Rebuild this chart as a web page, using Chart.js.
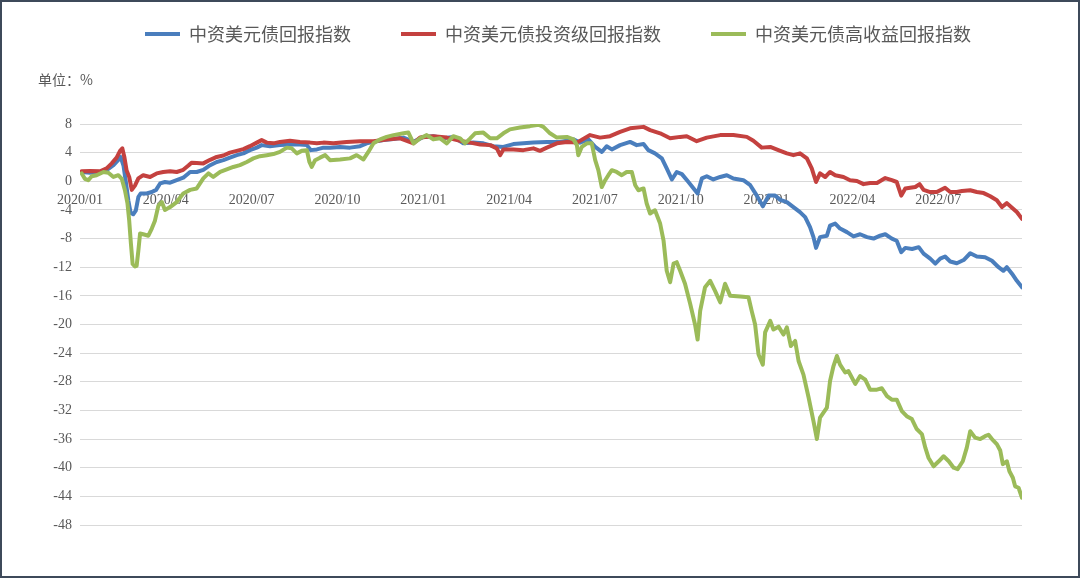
<!DOCTYPE html>
<html><head><meta charset="utf-8">
<script src="https://cdn.jsdelivr.net/npm/chart.js@4.4.1/dist/chart.umd.min.js"></script>
<style>
html,body{margin:0;padding:0;background:#fff;}
#frame{width:1080px;height:578px;box-sizing:border-box;border:2px solid #3e4a5a;background:#fff;}
canvas{display:block;}
</style></head><body>
<div id="frame"><canvas id="c" width="1076" height="574"></canvas></div>
<script>
// ---- data (x = months since 2020/01, y = cumulative return %) ----
const seriesNames = ['中资美元债回报指数', '中资美元债投资级回报指数', '中资美元债高收益回报指数'];
const unitLabel = '单位：%';
const tickLabels = ['2020/01','2020/04','2020/07','2020/10','2021/01','2021/04','2021/07','2021/10','2022/01','2022/04','2022/07'];
const tickMonths = [0,3,6,9,12,15,18,21,24,27,30];
const yMin = -48, yMax = 8, yStep = 4;

const blueSeries = [
[0.06,1.3],[0.35,1.2],[0.70,1.3],[0.93,1.55],[1.17,2.25],[1.34,3.0],[1.42,3.4],[1.52,2.2],[1.61,-0.3],[1.69,-2.7],
[1.77,-4.4],[1.86,-4.6],[1.95,-4.1],[2.04,-2.2],[2.12,-1.7],[2.33,-1.7],[2.51,-1.5],[2.66,-1.2],[2.80,-0.3],[2.97,-0.1],
[3.15,-0.2],[3.38,0.15],[3.61,0.5],[3.85,1.3],[4.08,1.3],[4.31,1.6],[4.55,2.25],[4.78,2.7],[5.01,2.95],[5.24,3.3],
[5.48,3.65],[5.71,3.9],[5.94,4.35],[6.18,4.7],[6.35,5.05],[6.64,4.9],[6.99,5.05],[7.34,5.15],[7.69,5.15],[7.93,5.05],
[8.07,4.35],[8.28,4.45],[8.51,4.7],[8.74,4.7],[9.09,4.8],[9.44,4.7],[9.79,4.9],[10.02,5.3],[10.26,5.5],[10.61,5.75],
[10.96,5.9],[11.31,6.1],[11.66,5.5],[12.00,6.2],[12.35,6.3],[12.70,6.0],[13.05,6.2],[13.40,5.3],[13.75,5.4],[14.10,5.3],
[14.45,4.9],[14.80,4.8],[15.15,5.2],[15.50,5.3],[15.85,5.4],[16.32,5.5],[16.78,5.5],[17.25,5.85],[17.48,5.4],[17.77,5.85],
[18.01,4.8],[18.24,4.1],[18.41,4.9],[18.59,4.45],[18.88,5.05],[19.23,5.5],[19.46,5.05],[19.70,5.2],[19.87,4.35],[20.10,3.9],
[20.34,3.2],[20.51,1.8],[20.69,0.25],[20.86,1.3],[21.04,1.0],[21.27,-0.1],[21.45,-1.0],[21.59,-1.7],[21.74,0.4],[21.91,0.7],
[22.14,0.25],[22.38,0.6],[22.61,0.85],[22.84,0.4],[23.19,0.15],[23.43,-0.55],[23.66,-2.0],[23.87,-3.5],[24.07,-2.0],[24.30,-2.0],
[24.48,-2.6],[24.71,-2.9],[24.94,-3.6],[25.17,-4.3],[25.35,-5.0],[25.52,-6.4],[25.64,-7.8],[25.73,-9.3],[25.87,-7.8],[26.11,-7.6],
[26.22,-6.2],[26.40,-5.9],[26.57,-6.6],[26.81,-7.1],[27.04,-7.7],[27.27,-7.4],[27.51,-7.8],[27.74,-8.0],[27.97,-7.6],[28.15,-7.4],
[28.38,-8.0],[28.55,-8.3],[28.71,-9.9],[28.85,-9.3],[29.09,-9.45],[29.32,-9.2],[29.49,-10.1],[29.72,-10.8],[29.90,-11.5],[30.07,-10.8],
[30.24,-10.5],[30.42,-11.2],[30.65,-11.45],[30.89,-11.0],[31.12,-10.05],[31.35,-10.5],[31.64,-10.6],[31.88,-11.1],[32.11,-12.0],[32.28,-12.5],
[32.40,-12.0],[32.58,-12.9],[32.75,-13.9],[32.93,-14.8]
];

const redSeries = [
[0.06,1.4],[0.35,1.45],[0.70,1.4],[0.93,1.8],[1.11,2.5],[1.28,3.3],[1.40,4.25],[1.48,4.6],[1.55,3.4],[1.63,1.5],
[1.72,0.6],[1.81,-1.2],[1.92,-0.6],[2.04,0.4],[2.21,0.85],[2.45,0.6],[2.68,1.1],[2.91,1.3],[3.15,1.4],[3.38,1.3],
[3.61,1.6],[3.79,2.2],[3.90,2.6],[4.08,2.55],[4.31,2.5],[4.55,3.0],[4.78,3.4],[5.01,3.6],[5.24,4.0],[5.48,4.25],
[5.71,4.5],[5.94,4.9],[6.18,5.4],[6.35,5.75],[6.53,5.4],[6.76,5.3],[6.99,5.5],[7.34,5.65],[7.69,5.5],[8.04,5.4],
[8.28,5.3],[8.51,5.4],[8.86,5.3],[9.32,5.5],[9.79,5.6],[10.26,5.6],[10.72,5.85],[11.19,6.0],[11.66,5.3],[11.89,6.1],
[12.35,6.3],[12.82,6.1],[13.29,5.65],[13.64,5.4],[13.99,5.15],[14.34,5.05],[14.57,4.6],[14.69,3.65],[14.80,4.45],[15.15,4.45],
[15.50,4.35],[15.85,4.6],[16.08,4.25],[16.32,4.7],[16.67,5.3],[17.02,5.5],[17.37,5.4],[17.83,6.45],[18.18,6.1],[18.53,6.3],
[18.88,6.9],[19.23,7.4],[19.70,7.6],[19.93,7.15],[20.28,6.7],[20.63,6.0],[20.98,6.2],[21.21,6.3],[21.56,5.6],[21.91,6.1],
[22.38,6.45],[22.84,6.45],[23.31,6.2],[23.54,5.65],[23.83,4.7],[24.13,4.8],[24.48,4.25],[24.71,3.9],[24.94,3.65],[25.17,3.9],
[25.41,3.2],[25.58,1.8],[25.73,-0.1],[25.87,1.1],[26.05,0.6],[26.22,1.3],[26.40,0.85],[26.69,0.6],[26.92,0.15],[27.16,0.05],
[27.39,-0.4],[27.62,-0.25],[27.86,-0.25],[28.15,0.45],[28.38,0.15],[28.55,-0.1],[28.71,-2.0],[28.85,-1.0],[29.02,-0.9],[29.20,-0.8],
[29.35,-0.4],[29.49,-1.2],[29.72,-1.5],[29.95,-1.5],[30.24,-0.9],[30.42,-1.5],[30.65,-1.5],[30.83,-1.35],[31.12,-1.25],[31.35,-1.5],
[31.59,-1.65],[31.82,-2.1],[32.05,-2.65],[32.23,-3.6],[32.40,-3.05],[32.58,-3.7],[32.75,-4.3],[32.93,-5.25]
];

const greenSeries = [
[0.06,1.1],[0.17,0.35],[0.29,0.15],[0.41,0.7],[0.58,0.85],[0.82,1.3],[0.99,1.2],[1.17,0.6],[1.34,0.85],[1.46,0.35],
[1.57,-1.25],[1.66,-3.1],[1.72,-5.5],[1.78,-8.7],[1.84,-11.55],[1.92,-11.9],[1.98,-11.8],[2.04,-9.7],[2.10,-7.3],[2.21,-7.4],
[2.39,-7.6],[2.51,-6.6],[2.62,-5.5],[2.74,-3.4],[2.86,-2.9],[2.97,-4.0],[3.15,-3.6],[3.38,-2.9],[3.61,-1.7],[3.85,-1.2],
[4.08,-1.0],[4.31,0.4],[4.49,1.1],[4.66,0.6],[4.90,1.3],[5.13,1.65],[5.36,2.0],[5.59,2.25],[5.83,2.7],[6.06,3.2],
[6.29,3.5],[6.53,3.65],[6.76,3.8],[6.99,4.1],[7.23,4.7],[7.40,4.6],[7.58,3.9],[7.75,4.25],[7.93,4.35],[8.02,2.7],
[8.10,2.0],[8.22,2.95],[8.39,3.3],[8.57,3.65],[8.74,2.95],[9.09,3.05],[9.44,3.2],[9.67,3.65],[9.91,3.05],[10.08,4.1],
[10.26,5.3],[10.49,5.85],[10.72,6.2],[10.96,6.45],[11.31,6.7],[11.48,6.8],[11.66,5.3],[11.89,6.0],[12.12,6.45],[12.35,5.85],
[12.59,6.0],[12.82,5.3],[13.05,6.3],[13.29,6.0],[13.46,5.3],[13.64,6.0],[13.81,6.7],[14.10,6.8],[14.34,6.0],[14.57,6.0],
[14.80,6.7],[15.03,7.25],[15.38,7.5],[15.73,7.7],[16.03,7.9],[16.20,7.6],[16.43,6.7],[16.67,6.1],[17.02,6.2],[17.25,5.85],
[17.37,5.05],[17.42,3.65],[17.54,4.8],[17.72,5.3],[17.89,5.3],[18.01,2.95],[18.12,1.55],[18.24,-0.8],[18.36,0.15],[18.47,0.85],
[18.59,1.55],[18.76,1.3],[18.94,0.85],[19.11,1.3],[19.29,1.3],[19.41,-0.55],[19.52,-1.25],[19.70,-1.0],[19.81,-3.1],[19.93,-4.5],
[20.10,-4.05],[20.28,-5.9],[20.40,-8.3],[20.51,-12.5],[20.63,-14.1],[20.75,-11.5],[20.86,-11.3],[20.98,-12.5],[21.15,-14.3],[21.33,-17.1],
[21.50,-20.0],[21.59,-22.1],[21.68,-18.1],[21.85,-14.8],[22.03,-13.9],[22.20,-15.3],[22.38,-16.9],[22.55,-14.3],[22.73,-16.0],[23.08,-16.1],
[23.37,-16.2],[23.48,-18.1],[23.60,-20.0],[23.72,-24.2],[23.87,-25.6],[23.95,-21.1],[24.13,-19.5],[24.24,-20.7],[24.42,-20.3],[24.59,-21.4],
[24.71,-20.4],[24.85,-23.0],[25.00,-22.3],[25.12,-25.1],[25.29,-27.0],[25.47,-30.2],[25.64,-33.5],[25.76,-36.0],[25.87,-33.0],[26.11,-31.6],
[26.22,-27.9],[26.34,-25.8],[26.46,-24.4],[26.57,-25.6],[26.75,-26.7],[26.86,-26.5],[27.10,-28.3],[27.27,-27.2],[27.45,-27.7],[27.62,-29.1],
[27.86,-29.1],[28.03,-28.9],[28.21,-30.0],[28.38,-30.5],[28.55,-30.5],[28.73,-32.1],[28.90,-32.8],[29.08,-33.2],[29.25,-34.6],[29.43,-35.3],
[29.55,-37.2],[29.66,-38.6],[29.84,-39.8],[30.02,-39.1],[30.19,-38.4],[30.37,-39.1],[30.54,-40.0],[30.68,-40.2],[30.86,-39.1],[31.00,-37.2],
[31.12,-34.9],[31.29,-35.8],[31.47,-36.0],[31.64,-35.6],[31.76,-35.4],[31.88,-36.0],[32.05,-36.7],[32.17,-37.6],[32.26,-39.5],[32.40,-39.1],
[32.49,-40.5],[32.61,-41.4],[32.69,-42.6],[32.81,-42.8],[32.93,-44.2]
];

// ---- styles ----
const colors = ['#4a7ebd', '#c4413f', '#9bbb59'];
const textColor = '#595959';
const serif = "'Liberation Serif', 'Times New Roman', serif";
const cjk = "'Noto Sans CJK SC', 'Noto Sans', sans-serif";

const toPoints = s => s.map(([x, y]) => ({x, y}));
const lastMonth = Math.max(...[blueSeries, redSeries, greenSeries].map(s => s[s.length - 1][0]));

const mk = (i, s, order) => ({
  label: seriesNames[i], data: toPoints(s), borderColor: colors[i], backgroundColor: colors[i],
  borderWidth: 4, pointRadius: 0, pointHoverRadius: 0, tension: 0, fill: false, order,
  borderJoinStyle: 'round', borderCapStyle: 'round', yAxisID: 'y'
});

new Chart(document.getElementById('c'), {
  type: 'line',
  data: { datasets: [mk(0, blueSeries, 3), mk(1, redSeries, 2), mk(2, greenSeries, 1)] },
  options: {
    responsive: false, animation: false, devicePixelRatio: 1,
    layout: { padding: { top: -27, left: 36, right: 0, bottom: 51 } },
    plugins: {
      tooltip: { enabled: false },
      legend: {
        position: 'top', align: 'center', weight: 1000,
        labels: {
          boxWidth: 35, boxHeight: 4, padding: 50, color: textColor,
          font: { family: cjk, size: 18 },
          sort: (a, b) => a.datasetIndex - b.datasetIndex,
          generateLabels(chart) {
            const items = Chart.defaults.plugins.legend.labels.generateLabels(chart);
            items.forEach(it => { it.lineWidth = 0; it.fillStyle = it.strokeStyle; });
            return items;
          }
        }
      },
      title: {
        display: true, text: unitLabel, align: 'start', position: 'top', weight: 500,
        color: textColor, font: { family: cjk, size: 14, weight: 'normal' },
        padding: { top: 18.6, bottom: 35.6 }
      }
    },
    scales: {
      x: {
        type: 'linear', position: { y: 0 }, min: 0, max: lastMonth,
        grid: { display: false, drawTicks: true, tickLength: 8 },
        border: { display: false },
        afterBuildTicks: s => { s.ticks = tickMonths.map(v => ({ value: v })); },
        ticks: {
          autoSkip: false, maxRotation: 0, minRotation: 0, padding: 3, color: textColor,
          font: { family: serif, size: 14 },
          callback: v => tickLabels[tickMonths.indexOf(v)]
        }
      },
      y: {
        type: 'linear', position: 'left', min: yMin, max: yMax,
        afterFit: s => { s.width = 42; },
        grid: { color: '#d9d9d9', lineWidth: 1, drawTicks: false },
        border: { display: false },
        ticks: { stepSize: yStep, padding: 8, color: textColor, font: { family: serif, size: 14 } }
      },
      yRight: {
        type: 'linear', position: 'right', display: true,
        afterFit: s => { s.width = 56; },
        grid: { display: false, drawTicks: false }, border: { display: false },
        ticks: { display: false }
      }
    }
  }
});
</script>
</body></html>
